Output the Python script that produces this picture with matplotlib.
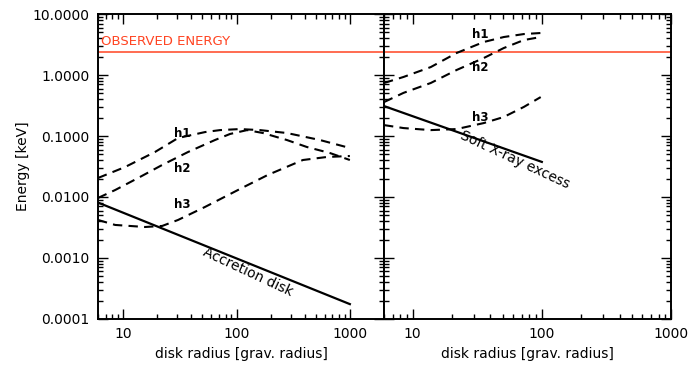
import matplotlib
matplotlib.use("Agg")
import matplotlib.pyplot as plt
from matplotlib.ticker import LogLocator, NullFormatter, FixedFormatter, FixedLocator

plt.rcParams['font.family'] = ['DejaVu Sans']

# Observed energy (keV)
e_obs = 2.4

# Left panel: disk radius (grav. radius) and energies (keV)
disk_r = [6, 1000]
disk_e = [0.0081, 0.000175]

h1_left_r = [6, 10.4, 19.1, 30.5, 52.7, 71.5, 107, 161, 278, 544, 1000]
h1_left_e = [0.0205, 0.031, 0.0547, 0.0927, 0.116, 0.125, 0.130, 0.125, 0.112, 0.086, 0.0636]

h2_left_r = [6, 8.5, 13.55, 22.1, 37.4, 64.6, 87.7, 124, 171, 278, 418, 667, 1000]
h2_left_e = [0.00964, 0.013, 0.0205, 0.0335, 0.0547, 0.086, 0.108, 0.125, 0.112, 0.086, 0.066, 0.0526, 0.0404]

h3_left_r = [6, 8.5, 15.6, 22.1, 30.5, 52.7, 112, 189, 385, 627, 1000]
h3_left_e = [0.0042, 0.00348, 0.00322, 0.00335, 0.0042, 0.00686, 0.0141, 0.023, 0.0404, 0.0453, 0.047]

# Right panel
soft_r = [6, 100]
soft_e = [0.31, 0.0376]

h_right_r = [6, 8.5, 13.8, 21.9, 35.5, 50.7, 72.6, 98]
h1_right_e = [0.74, 0.93, 1.35, 2.30, 3.48, 4.20, 4.70, 4.89]
h2_right_e = [0.36, 0.51, 0.74, 1.21, 1.90, 2.77, 3.75, 4.20]
h3_right_e = [0.151, 0.135, 0.125, 0.130, 0.163, 0.205, 0.30, 0.435]

y_ticks = [0.0001, 0.001, 0.01, 0.1, 1.0, 10.0]
y_ticklabels = ["0.0001", "0.0010", "0.0100", "0.1000", "1.0000", "10.0000"]
x_ticks = [10, 100, 1000]
x_ticklabels = ["10", "100", "1000"]

red = "#ff4422"
dash = (0, (4.5, 3))

fig = plt.figure(figsize=(6.95, 3.70), dpi=100)
ax1 = fig.add_axes([0.141, 0.138, 0.4115, 0.824])
ax2 = fig.add_axes([0.5525, 0.138, 0.413, 0.824])


def style(ax, xmax, ylabels):
    ax.set_xscale("log")
    ax.set_yscale("log")
    ax.set_xlim(6, xmax)
    ax.set_ylim(0.0001, 10)
    ax.xaxis.set_major_locator(FixedLocator(x_ticks))
    ax.xaxis.set_major_formatter(FixedFormatter(x_ticklabels))
    ax.xaxis.set_minor_locator(LogLocator(base=10, subs=range(2, 10), numticks=20))
    ax.xaxis.set_minor_formatter(NullFormatter())
    ax.yaxis.set_major_locator(FixedLocator(y_ticks))
    if ylabels:
        ax.yaxis.set_major_formatter(FixedFormatter(y_ticklabels))
    else:
        ax.yaxis.set_major_formatter(NullFormatter())
    ax.yaxis.set_minor_locator(LogLocator(base=10, subs=range(2, 10), numticks=20))
    ax.yaxis.set_minor_formatter(NullFormatter())
    ax.tick_params(which="both", direction="in", top=True, right=True,
                   labelsize=10, width=1.0, color="black")
    ax.tick_params(which="major", length=7.5, pad=6)
    ax.tick_params(which="minor", length=3.8)
    for s in ax.spines.values():
        s.set_linewidth(1.4)
    ax.set_xlabel("disk radius [grav. radius]", fontsize=10, labelpad=4)


style(ax1, 2000, True)
style(ax2, 1000, False)
ax1.set_ylabel("Energy [keV]", fontsize=10, labelpad=2)

# Left panel
ax1.axhline(e_obs, color=red, lw=1.1)
ax1.text(6.4, 3.6, "OBSERVED ENERGY", color=red, fontsize=9.5, va="center", ha="left")
ax1.plot(disk_r, disk_e, color="black", lw=1.6)
ax1.plot(h1_left_r, h1_left_e, color="black", lw=1.5, linestyle=dash)
ax1.plot(h2_left_r, h2_left_e, color="black", lw=1.5, linestyle=dash)
ax1.plot(h3_left_r, h3_left_e, color="black", lw=1.5, linestyle=dash)
ax1.text(33, 0.11, "h1", fontsize=8.5, fontweight="bold", ha="center", va="center")
ax1.text(33, 0.029, "h2", fontsize=8.5, fontweight="bold", ha="center", va="center")
ax1.text(33, 0.0075, "h3", fontsize=8.5, fontweight="bold", ha="center", va="center")
ax1.text(125, 0.00058, "Accretion disk", fontsize=10, rotation=-25,
         ha="center", va="center")

# Right panel
ax2.axhline(e_obs, color=red, lw=1.1)
ax2.plot(soft_r, soft_e, color="black", lw=1.6)
ax2.plot(h_right_r, h1_right_e, color="black", lw=1.5, linestyle=dash)
ax2.plot(h_right_r, h2_right_e, color="black", lw=1.5, linestyle=dash)
ax2.plot(h_right_r, h3_right_e, color="black", lw=1.5, linestyle=dash)
ax2.text(33.5, 4.6, "h1", fontsize=8.5, fontweight="bold", ha="center", va="center")
ax2.text(33.5, 1.35, "h2", fontsize=8.5, fontweight="bold", ha="center", va="center")
ax2.text(33.5, 0.205, "h3", fontsize=8.5, fontweight="bold", ha="center", va="center")
ax2.text(62, 0.040, "Soft X-ray excess", fontsize=10, rotation=-25,
         ha="center", va="center")

fig.savefig("out.png", dpi=100)
